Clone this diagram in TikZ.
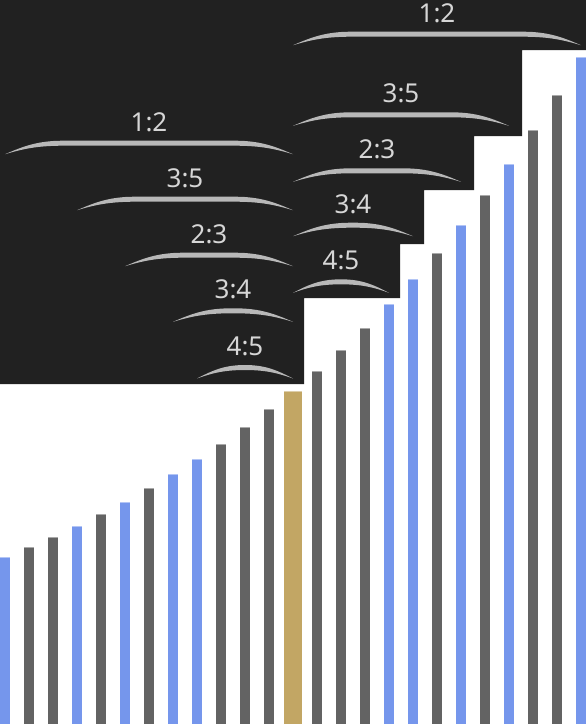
\documentclass[tikz,border=0pt]{standalone}
\usepackage{fontspec}
\setmainfont{Noto Sans}
\definecolor{darkbg}{HTML}{212121}
\definecolor{barG}{HTML}{636363}
\definecolor{barB}{HTML}{7596EC}
\definecolor{barY}{HTML}{C2A664}
\definecolor{arcgray}{HTML}{B8B8B8}
\definecolor{labelgray}{HTML}{D6D6D6}
\tikzset{
  lbl/.style={text=labelgray, font=\fontsize{26}{30}\selectfont, anchor=base, inner sep=0pt},
}
\newcommand\mycrescent[3]{%
  \pgfmathsetmacro\ra{min(58,(#2-#1)/2)}%
  \pgfmathsetmacro\yb{#3+13.5}%
  \pgfmathsetmacro\yl{#3+5}%
  \pgfmathsetmacro\yu{#3+13.5*0.45}%
  \pgfmathsetmacro\yd{#3+13.5*0.62}%
  \fill[arcgray] (#1,\yb) .. controls ({#1+0.3*\ra},\yu) and ({#1+0.55*\ra},#3) .. ({#1+\ra},#3)
     -- ({#2-\ra},#3)
     .. controls ({#2-0.55*\ra},#3) and ({#2-0.3*\ra},\yu) .. (#2,\yb)
     .. controls ({#2-0.3*\ra},\yd) and ({#2-0.55*\ra},\yl) .. ({#2-\ra},\yl)
     -- ({#1+\ra},\yl)
     .. controls ({#1+0.55*\ra},\yl) and ({#1+0.3*\ra},\yd) .. (#1,\yb) -- cycle;
}
\begin{document}
\begin{tikzpicture}[x=1pt,y=-1pt]
\useasboundingbox (0,0) rectangle (586,724);
\fill[white] (0,0) rectangle (586,724);
% dark staircase background
\fill[darkbg] (0,0) -- (586,0) -- (586,50) -- (522,50) -- (522,136) -- (474,136)
  -- (474,190) -- (424,190) -- (424,244) -- (400,244) -- (400,298) -- (304,298)
  -- (304,384) -- (0,384) -- cycle;
% bars
\foreach \i/\c in {0/barB,1/barG,2/barG,3/barB,4/barG,5/barB,6/barG,7/barB,8/barB,9/barG,10/barG,11/barG,12/barY,
  13/barG,14/barG,15/barG,16/barB,17/barB,18/barG,19/barB,20/barG,21/barB,22/barG,23/barG,24/barB}{
  \pgfmathsetmacro\xl{\i<12 ? 24*\i : (\i==12 ? 284 : 312+24*(\i-13))}
  \pgfmathsetmacro\w{\i==12 ? 18 : 10}
  \pgfmathsetmacro\yt{724-166.667*pow(2,\i/12)}
  \fill[\c] (\xl,\yt) rectangle ({\xl+\w},724);
  \fill[\c!55!white] (\xl,\yt) rectangle ({\xl+\w},{\yt+1});
}
% left arcs
\mycrescent{5}{293}{140.7}
\mycrescent{77}{293}{196.7}
\mycrescent{125}{293}{252.7}
\mycrescent{173}{293}{308.3}
\mycrescent{197}{293}{365}
% right arcs
\mycrescent{293}{581}{31.7}
\mycrescent{293}{509}{112.3}
\mycrescent{293}{461}{168.3}
\mycrescent{293}{413}{222.7}
\mycrescent{293}{389}{279.3}
% labels
\node[lbl] (L12) at (149,131.2) {1:2};
\node[lbl] (L35) at (185,187.2) {3:5};
\node[lbl] (L23) at (209,243.2) {2:3};
\node[lbl] (L34) at (233,298.8) {3:4};
\node[lbl] (L45) at (245,355.5) {4:5};
\node[lbl] (R12) at (437,22.2) {1:2};
\node[lbl] (R35) at (401,102.8) {3:5};
\node[lbl] (R23) at (377,158.8) {2:3};
\node[lbl] (R34) at (353,213.2) {3:4};
\node[lbl] (R45) at (341,269.8) {4:5};
\end{tikzpicture}
\end{document}
